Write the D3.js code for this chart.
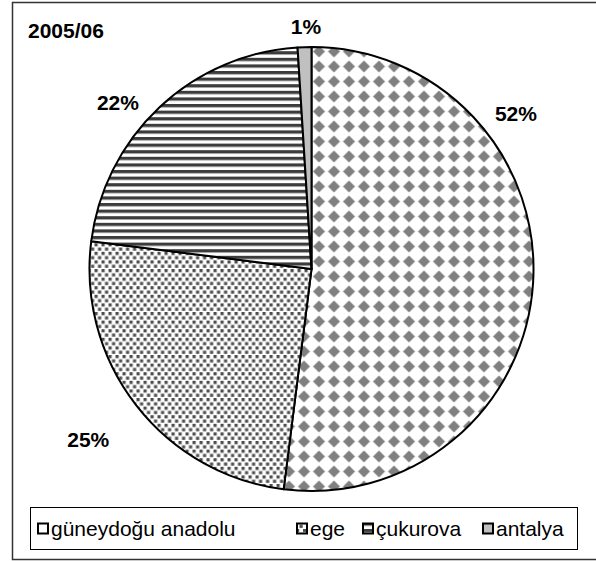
<!DOCTYPE html>
<html>
<head>
<meta charset="utf-8">
<script src="https://cdn.jsdelivr.net/npm/d3@7"></script>
<style>
  body { margin: 0; background: #fff; }
  svg { display: block; font-family: "Liberation Sans", Arial, sans-serif; }
</style>
</head>
<body>
<svg id="chart" width="596" height="561"></svg>
<script>
const categories = ["güneydoğu anadolu", "ege", "çukurova", "antalya"];
const shares = [52, 25, 22, 1];
const percentLabels = ["52%", "25%", "22%", "1%"];
const title = "2005/06";

const svg = d3.select("svg#chart");
const cx = 311.5, cy = 269, radius = 222;

// fill patterns
const defs = svg.append("defs");

const diamond = defs.append("pattern")
    .attr("id", "pat-diamond")
    .attr("patternUnits", "userSpaceOnUse")
    .attr("width", 15).attr("height", 15);
diamond.append("rect").attr("width", 15).attr("height", 15).attr("fill", "#fff");
diamond.append("path")
    .attr("d", "M7.5,1.5 L13.5,7.5 L7.5,13.5 L1.5,7.5 Z")
    .attr("fill", "#808080");

const dots = defs.append("pattern")
    .attr("id", "pat-dots")
    .attr("patternUnits", "userSpaceOnUse")
    .attr("width", 7).attr("height", 8.6);
dots.append("rect").attr("width", 7).attr("height", 8.6).attr("fill", "#fff");
[[0, 0], [3.5, 4.3]].forEach(function(d) {
  dots.append("rect")
      .attr("x", d[0]).attr("y", d[1])
      .attr("width", 3.2).attr("height", 3.2)
      .attr("fill", "#4d4d4d");
});

const stripes = defs.append("pattern")
    .attr("id", "pat-stripes")
    .attr("patternUnits", "userSpaceOnUse")
    .attr("width", 10).attr("height", 6.6);
stripes.append("rect").attr("width", 10).attr("height", 6.6).attr("fill", "#fff");
stripes.append("rect").attr("width", 10).attr("height", 3).attr("fill", "#3c3c3c");
stripes.append("rect").attr("y", 3).attr("width", 10).attr("height", 0.8).attr("fill", "#9a9a9a");

const fills = ["url(#pat-diamond)", "url(#pat-dots)", "url(#pat-stripes)", "#c0c0c0"];

// outer frame
svg.append("rect")
    .attr("x", 12.5).attr("y", 2.5)
    .attr("width", 600).attr("height", 557)
    .attr("fill", "none")
    .attr("stroke", "#333")
    .attr("stroke-width", 1.5);

svg.append("text")
    .attr("x", 28).attr("y", 38)
    .attr("font-size", 21).attr("font-weight", "bold")
    .text(title);

const pie = d3.pie().sort(null).value(d => d);
const arcs = pie(shares);
const arc = d3.arc().innerRadius(0).outerRadius(radius);

const g = svg.append("g").attr("transform", "translate(" + cx + "," + cy + ")");
g.selectAll("path.slice")
    .data(arcs)
    .enter().append("path")
    .attr("class", "slice")
    .attr("d", arc)
    .attr("fill", (d, i) => fills[i])
    .attr("stroke", "#000")
    .attr("stroke-width", 2)
    .attr("stroke-linejoin", "round");

// label placement (Excel best fit): angle in degrees from 12 o'clock, distance from centre
const labelAngle = [52.7, 232.6, 310.6, 358.7];
const labelDist = [257, 281, 255, 242];
g.selectAll("text.pct")
    .data(arcs)
    .enter().append("text")
    .attr("class", "pct")
    .attr("x", (d, i) => labelDist[i] * Math.sin(labelAngle[i] * Math.PI / 180))
    .attr("y", (d, i) => -labelDist[i] * Math.cos(labelAngle[i] * Math.PI / 180))
    .attr("dy", "0.35em")
    .attr("text-anchor", "middle")
    .attr("font-size", 21).attr("font-weight", "bold")
    .text((d, i) => percentLabels[i]);

// legend
svg.append("rect")
    .attr("x", 30.5).attr("y", 507.5)
    .attr("width", 547).attr("height", 42)
    .attr("fill", "#fff")
    .attr("stroke", "#000")
    .attr("stroke-width", 1);

const legendX = [37, 296, 362, 482];
const legendPat = ["#fff", "url(#pat-dots)", "url(#pat-stripes)", "#c0c0c0"];
const item = svg.selectAll("g.leg")
    .data(categories)
    .enter().append("g")
    .attr("class", "leg")
    .attr("transform", (d, i) => "translate(" + legendX[i] + ",529)");
item.append("rect")
    .attr("x", 1).attr("y", -5.5)
    .attr("width", 10).attr("height", 10)
    .attr("fill", (d, i) => legendPat[i])
    .attr("stroke", "#000")
    .attr("stroke-width", 2);
item.append("text")
    .attr("x", 14).attr("y", 0)
    .attr("dy", "0.35em")
    .attr("font-size", 21)
    .text(d => d);
</script>
</body>
</html>
